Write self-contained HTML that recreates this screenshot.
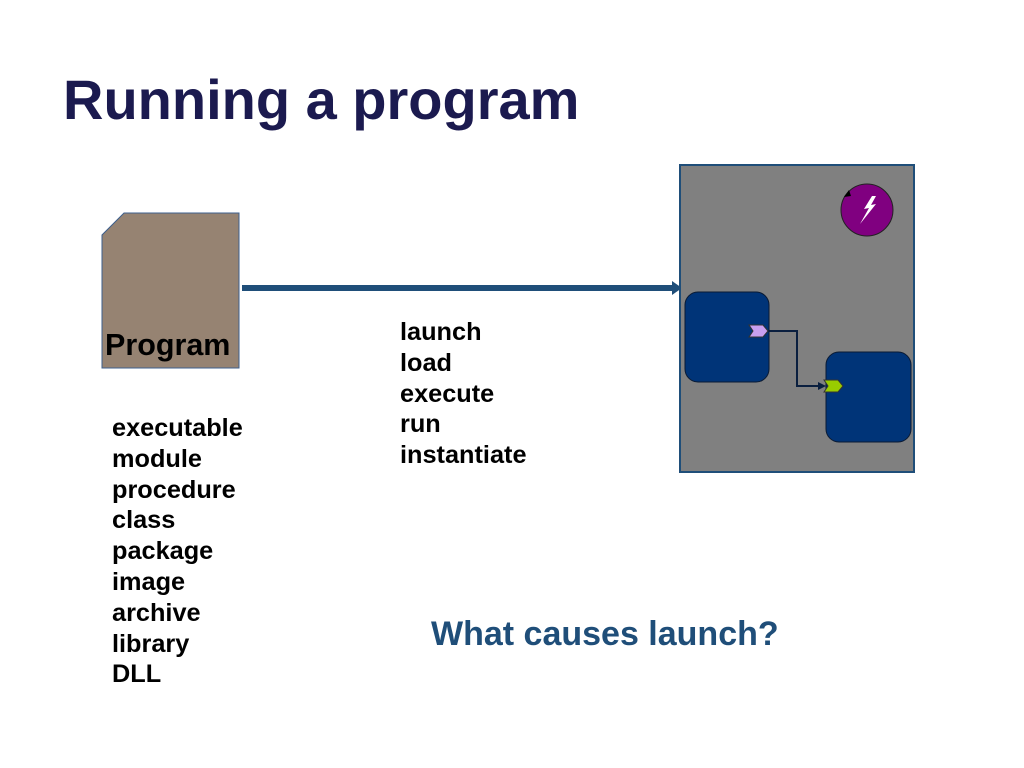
<!DOCTYPE html>
<html><head><style>
body{margin:0;width:1024px;height:768px;background:#fff;position:relative;overflow:hidden;font-family:"Liberation Sans",Arial,sans-serif}
.t{position:absolute;font-weight:bold;white-space:nowrap}
.list{position:absolute;font-weight:bold;font-size:25.3px;line-height:30.8px;color:#000}
</style></head><body>
<div class="t" style="left:63px;top:67px;font-size:56px;color:#1b1a4f">Running a program</div>
<svg width="1024" height="768" style="position:absolute;left:0;top:0">
<polygon points="124,213 239,213 239,368 102,368 102,235" fill="#968372" stroke="#3d5f8c" stroke-width="1"/>
<rect x="242" y="285" width="432" height="6" fill="#1f4e79"/>
<polygon points="672,281 682,288 672,295" fill="#1f4e79"/>
<rect x="680" y="165" width="234" height="307" fill="#808080" stroke="#1f4e79" stroke-width="2"/>
<circle cx="867" cy="210" r="26" fill="#800080" stroke="#222" stroke-width="1"/>
<polygon points="849,190 844,197 851,196" fill="#000"/>
<polygon points="872,196 864,209 869,208 860,224 876,204 871,205 876,196" fill="#fff"/>
<rect x="685" y="292" width="84" height="90" rx="13" fill="#003478" stroke="#0a1a33" stroke-width="1"/>
<rect x="826" y="352" width="85" height="90" rx="13" fill="#003478" stroke="#0a1a33" stroke-width="1"/>
<polyline points="766,331 797,331 797,386 823,386" fill="none" stroke="#0a1f3f" stroke-width="2"/>
<polygon points="818,382 826,386 818,390" fill="#0a1f3f"/>
<polygon points="749,325 763,325 768,331 763,337 749,337 753,331" fill="#c8a0f0" stroke="#333" stroke-width="1"/>
<polygon points="824,380 838,380 843,386 838,392 824,392 828,386" fill="#99cc00" stroke="#333" stroke-width="1"/>
</svg>
<div class="t" style="left:105px;top:328px;font-size:30.5px;color:#000">Program</div>
<div class="list" style="left:400px;top:317px">launch<br>load<br>execute<br>run<br>instantiate</div>
<div class="list" style="left:112px;top:413px">executable<br>module<br>procedure<br>class<br>package<br>image<br>archive<br>library<br>DLL</div>
<div class="t" style="left:431px;top:615px;font-size:34px;color:#1f4e79">What causes launch?</div>
</body></html>
